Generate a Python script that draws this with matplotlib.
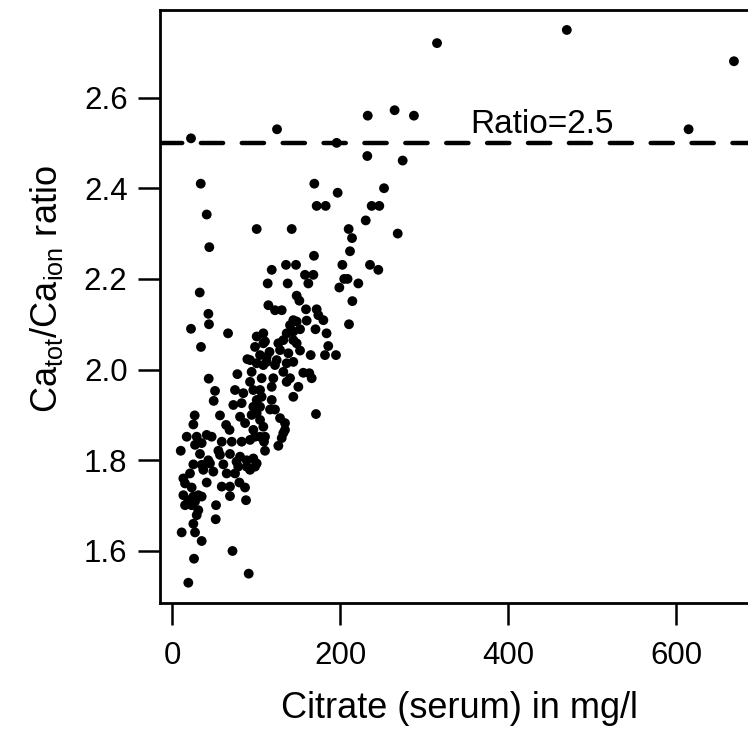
import matplotlib
matplotlib.use("Agg")
import matplotlib.pyplot as plt

plt.rcParams['font.family'] = ['Liberation Sans', 'DejaVu Sans']
plt.rcParams['mathtext.fontset'] = 'custom'
plt.rcParams['mathtext.rm'] = 'Liberation Sans'

# Citrate (serum) in mg/l and Ca_tot/Ca_ion ratio
citrate = [
    315.5, 470, 669, 615, 22.6, 125, 233, 265, 288, 196,
    232.5, 274.6, 34.2, 169.4, 197.2, 252.4, 172.2, 182.9, 237.7, 246.8,
    41.3, 230.6, 100.8, 142.5, 210.3, 268.7, 214.3, 44.4, 211.9, 169,
    202.8, 135.7, 147.6, 235.7, 245.6, 118.7, 158.3, 168.3, 113.9, 137.7,
    162.3, 205, 209, 221.8, 199.2, 33, 148.4, 151.6, 214.7,
    114.7, 122.6, 130.6, 159.5, 172.2, 174.2,
    # left part of cluster
    43.3, 44, 22.6, 66.7, 34.5, 43.7, 51.2, 49.6, 27, 25.4, 57.1,
    89.7, 77.8, 75, 84.9, 73, 82.9, 81, 64.4, 87, 68.5,
    # central cluster
    210.7, 180.2, 144.4, 140.5, 148.4, 160.3, 170.8, 184, 136.5, 144.4, 152.4,
    108.7, 100.8, 110.7, 132.5, 144.4, 148.4, 186, 98.8, 108.7, 126.6, 128.6,
    152.4, 165.1, 182.1, 195.2, 116.1, 112.7, 138.5, 136.5, 104.8, 100.8,
    124.6, 122.6, 92.9, 144.4, 108.7, 112.7, 132.5, 94.8, 156.3, 163.5, 166.3,
    120.6, 118.7, 140.5, 136.5, 106.7, 150.4, 104.8, 96.8, 92.9, 144.4,
    106.7, 100.8, 118.7, 96.8, 104.8, 116.7, 122.6, 171.4, 100.8, 94.8,
    128.6, 134.5, 104.8, 108.7, 132.5, 134.5, 96.8, 98.8, 104.8, 110.7,
    # lower cluster
    17.5, 29.4, 41.3, 47.2, 27.4, 35.3, 59.2, 71.1, 82.9, 92.9,
    10.4, 33.3, 55.2, 57.1, 69, 81, 88.9, 96.8, 43.2, 45.2,
    25.4, 35.3, 61.1, 76.8, 78.8, 88.9, 92.9, 37.3, 49.2, 65.1, 75,
    21.4, 13.5, 15.5, 23.4, 41.3, 59.2, 69, 80.2, 86.9, 69, 88.1,
    13.5, 19.4, 25.4, 31.3, 35.3, 15.5, 23.4, 27.4, 31.3, 29.4, 52.4,
    52, 25.4, 11.5, 27.4, 35.3, 72, 26.2, 91.3, 19.4,
    130.6, 109.5, 126.6, 110.7, 98.8, 100.8,
]
ratio = [
    2.72, 2.749, 2.68, 2.53, 2.51, 2.53, 2.56, 2.572, 2.56, 2.50,
    2.471, 2.461, 2.41, 2.41, 2.39, 2.40, 2.361, 2.361, 2.361, 2.361,
    2.342, 2.329, 2.31, 2.31, 2.31, 2.30, 2.29, 2.27, 2.261, 2.251,
    2.231, 2.231, 2.231, 2.231, 2.22, 2.22, 2.209, 2.209, 2.19, 2.19,
    2.19, 2.20, 2.20, 2.19, 2.181, 2.17, 2.163, 2.152, 2.151,
    2.142, 2.131, 2.131, 2.133, 2.133, 2.12,
    2.123, 2.10, 2.09, 2.08, 2.05, 1.98, 1.953, 1.931, 1.899, 1.879, 1.899,
    2.023, 1.99, 1.955, 1.948, 1.922, 1.926, 1.896, 1.878, 1.882, 1.867,
    2.10, 2.109, 2.109, 2.098, 2.106, 2.108, 2.089, 2.08, 2.08, 2.084, 2.089,
    2.08, 2.073, 2.062, 2.065, 2.065, 2.058, 2.052, 2.05, 2.058, 2.058, 2.043,
    2.042, 2.032, 2.032, 2.032, 2.039, 2.028, 2.036, 2.014, 2.032, 2.014,
    2.021, 2.01, 2.021, 2.017, 2.01, 2.017, 1.995, 1.995, 1.993, 1.992, 1.981,
    1.981, 1.962, 1.981, 1.973, 1.981, 1.962, 1.955, 1.955, 1.973, 1.94,
    1.94, 1.933, 1.933, 1.918, 1.918, 1.912, 1.912, 1.902, 1.904, 1.90,
    1.893, 1.882, 1.889, 1.874, 1.86, 1.867, 1.867, 1.852, 1.852, 1.852,
    1.852, 1.852, 1.856, 1.852, 1.834, 1.838, 1.841, 1.841, 1.841, 1.845,
    1.821, 1.814, 1.821, 1.812, 1.814, 1.808, 1.80, 1.804, 1.80, 1.793,
    1.791, 1.79, 1.791, 1.797, 1.786, 1.786, 1.779, 1.779, 1.775, 1.771, 1.771,
    1.771, 1.76, 1.749, 1.74, 1.751, 1.742, 1.742, 1.751, 1.74, 1.721, 1.712,
    1.723, 1.712, 1.72, 1.723, 1.72, 1.701, 1.701, 1.709, 1.69, 1.679, 1.701,
    1.67, 1.66, 1.641, 1.641, 1.622, 1.60, 1.583, 1.55, 1.53,
    1.849, 1.841, 1.832, 1.821, 1.786, 1.793,
]

threshold = 2.5
x_ticks = [0, 200, 400, 600]
y_ticks = [1.6, 1.8, 2.0, 2.2, 2.4, 2.6]

W, H = 748, 737
fig = plt.figure(figsize=(W / 100, H / 100), dpi=100)
left_px, bottom_px, top_px, right_px = 159.5, 603, 10, 760
ax = fig.add_axes([left_px / W, (H - bottom_px) / H,
                   (right_px - left_px) / W, (bottom_px - top_px) / H])

ax.scatter(citrate, ratio, s=50, color='black', edgecolors='none', zorder=3)
ax.axhline(threshold, color='black', lw=3.2, linestyle=(0, (5, 4.2)),
           dash_capstyle='round', zorder=2)
ax.text(354.8, 2.522, 'Ratio=2.5', fontsize=24, ha='left', va='baseline')

ax.set_xlim(-14.9, 700)
ax.set_ylim(1.4853, 2.793)
ax.set_xticks(x_ticks)
ax.set_yticks(y_ticks)
ax.set_yticklabels([f'{v:.1f}' for v in y_ticks])
ax.tick_params(axis='both', direction='out', length=16, width=1.8,
               labelsize=22.5, color='black')
ax.tick_params(axis='x', pad=11)
ax.tick_params(axis='y', pad=7)
for side in ['left', 'bottom', 'top']:
    ax.spines[side].set_linewidth(2)
ax.spines['right'].set_visible(False)

ax.set_xlabel('Citrate (serum) in mg/l', fontsize=26, labelpad=15)
ax.set_ylabel(r'Ca$_{\mathregular{tot}}$/Ca$_{\mathregular{ion}}$ ratio',
              fontsize=26, labelpad=14)
ax.yaxis.set_label_coords(-0.157, 0.53)

fig.savefig('out.png', dpi=100)
